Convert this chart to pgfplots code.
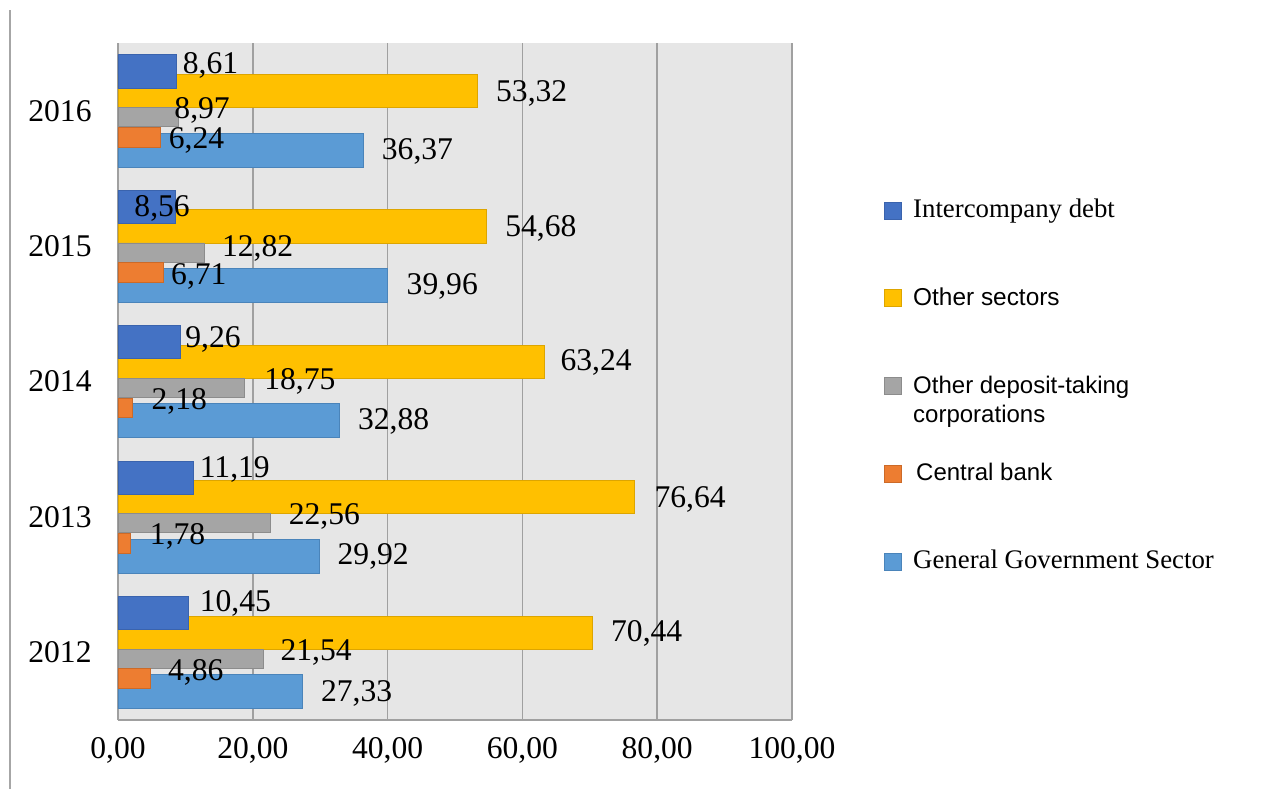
\documentclass[border=0pt]{standalone}
\usepackage{fontspec}
\setmainfont{Liberation Serif}
\newfontfamily\arial{Liberation Sans}
\usepackage{pgfplots}
\usepackage{pgfplotstable}
\pgfplotsset{compat=1.18}

\definecolor{cdb}{HTML}{4472C4}\definecolor{cdbD}{HTML}{3A63AD}
\definecolor{cyl}{HTML}{FFC000}\definecolor{cylD}{HTML}{DDA500}
\definecolor{cgr}{HTML}{A5A5A5}\definecolor{cgrD}{HTML}{8C8C8C}
\definecolor{cor}{HTML}{ED7D31}\definecolor{corD}{HTML}{CC6A28}
\definecolor{clb}{HTML}{5B9BD5}\definecolor{clbD}{HTML}{4A84BA}
\definecolor{gridc}{HTML}{A0A0A0}
\definecolor{bgc}{HTML}{E6E6E6}

% y = year index (0 = 2012), x = value, dx/dy = label offset in pt
\pgfplotstableread{
y x dx dy
0 10.45 5.5 5.2
1 11.19 3.0 4.3
2 9.26 2.3 1.9
3 8.56 -20.8 -0.6
4 8.61 3.2 3.6
}\interco
\pgfplotstableread{
y x dx dy
0 70.44 9.0 -0.2
1 76.64 9.8 -0.8
2 63.24 8.0 0
3 54.68 9.2 -0.6
4 53.32 9.2 -0.6
}\othersec
\pgfplotstableread{
y x dx dy
0 21.54 8.5 3.3
1 22.56 9.2 3.6
2 18.75 9.8 3.6
3 12.82 8.6 2.5
4 8.97 -2.2 3.5
}\odc
\pgfplotstableread{
y x dx dy
0 4.86 8.5 3.4
1 1.78 9.8 3.9
2 2.18 9.3 3.6
3 6.71 3.8 -1.6
4 6.24 4.2 -1.2
}\cbank
\pgfplotstableread{
y x dx dy
0 27.33 9.2 -0.6
1 29.92 8.8 0.2
2 32.88 9.0 0
3 39.96 9.5 -0.4
4 36.37 9.2 -0.2
}\ggs

\pgfplotsset{
  lbl/.style={forget plot, draw=none, fill=none,
    point meta=x,
    visualization depends on={\thisrow{dx} \as \dx},
    visualization depends on={\thisrow{dy} \as \dy},
    nodes near coords={\pgfmathprintnumber[fixed,fixed zerofill,precision=2,use comma]{\pgfplotspointmeta}},
    every node near coord/.append style={anchor=west, inner sep=0pt,
      text height=0.68em, text depth=0pt, xshift=\dx pt, yshift=\dy pt,
      yshift=-1pt, font=\fontsize{15.8}{18}\selectfont, text=black}},
}

\begin{document}
\begin{tikzpicture}
\useasboundingbox (-59pt,-34.5pt) rectangle (579.5pt,360pt);
\draw[gray!70, line width=0.6pt] (-54pt,-34.5pt) -- (-54pt,355pt);
\begin{axis}[
    at={(0,0)}, anchor=south west,
    scale only axis, width=337pt, height=338.5pt,
    xbar, enlargelimits=false,
    xmin=0, xmax=100, ymin=-0.5, ymax=4.5,
    xtick={0,20,...,100},
    ytick={0,1,2,3,4},
    yticklabels={2012,2013,2014,2015,2016},
    axis x line*=bottom, axis y line*=left,
    axis line style={-, draw=gridc, line width=0.8pt},
    major tick length=0pt,
    xmajorgrids, major grid style={draw=gridc, line width=0.8pt},
    axis background/.style={fill=bgc},
    /pgf/number format/assume math mode=true,
    tick label style={font=\fontsize{15.8}{18}\selectfont},
    xticklabel style={inner sep=0pt, yshift=-8.5pt,
      /pgf/number format/fixed, /pgf/number format/fixed zerofill,
      /pgf/number format/precision=2, /pgf/number format/use comma},
    yticklabel style={inner sep=0pt, xshift=-13pt},
    legend image code/.code={\draw[#1] (0pt,-4.25pt) rectangle (8.5pt,4.25pt);},
    legend cell align=left,
    legend style={at={(1.1365,0.7725)}, anchor=north west, draw=none, fill=none,
      inner sep=0pt, row sep=30.9pt, column sep=5.5pt,
      nodes={inner sep=0pt, text height=10pt, text depth=3pt, anchor=west}},
  ]
% bars
\addplot[forget plot, bar width=0.245, bar shift=0.145, fill=cyl, draw=cylD, line width=0.4pt] table[x=x,y=y]{\othersec};
\addplot[forget plot, bar width=0.245, bar shift=0.29, fill=cdb, draw=cdbD, line width=0.4pt] table[x=x,y=y]{\interco};
\addplot[forget plot, bar width=0.14, bar shift=-0.047, fill=cgr, draw=cgrD, line width=0.4pt] table[x=x,y=y]{\odc};
\addplot[forget plot, bar width=0.25, bar shift=-0.29, fill=clb, draw=clbD, line width=0.4pt] table[x=x,y=y]{\ggs};
\addplot[forget plot, bar width=0.145, bar shift=-0.195, fill=cor, draw=corD, line width=0.4pt] table[x=x,y=y]{\cbank};
% labels on top
\addplot[lbl, bar width=0.245, bar shift=0.29] table[x=x,y=y]{\interco};
\addplot[lbl, bar width=0.245, bar shift=0.145] table[x=x,y=y]{\othersec};
\addplot[lbl, bar width=0.14, bar shift=-0.047] table[x=x,y=y]{\odc};
\addplot[lbl, bar width=0.145, bar shift=-0.195] table[x=x,y=y]{\cbank};
\addplot[lbl, bar width=0.25, bar shift=-0.29] table[x=x,y=y]{\ggs};
% legend
\addlegendimage{fill=cdb, draw=cdbD, line width=0.4pt}
\addlegendentry{\fontsize{13.4}{16}\selectfont Intercompany debt}
\addlegendimage{fill=cyl, draw=cylD, line width=0.4pt}
\addlegendentry{\arial\fontsize{12.2}{14.5}\selectfont Other sectors}
\addlegendimage{fill=cgr, draw=cgrD, line width=0.4pt}
\addlegendentry{\arial\fontsize{12}{14.5}\selectfont\begin{tabular}[t]{@{}l@{}}Other deposit-taking\\corporations\end{tabular}}
\addlegendimage{fill=cor, draw=corD, line width=0.4pt}
\addlegendentry{\arial\fontsize{12}{14.5}\selectfont\hspace{1.5pt}Central bank}
\addlegendimage{fill=clb, draw=clbD, line width=0.4pt}
\addlegendentry{\fontsize{13.4}{16}\selectfont General Government Sector}
\end{axis}
\end{tikzpicture}
\end{document}
